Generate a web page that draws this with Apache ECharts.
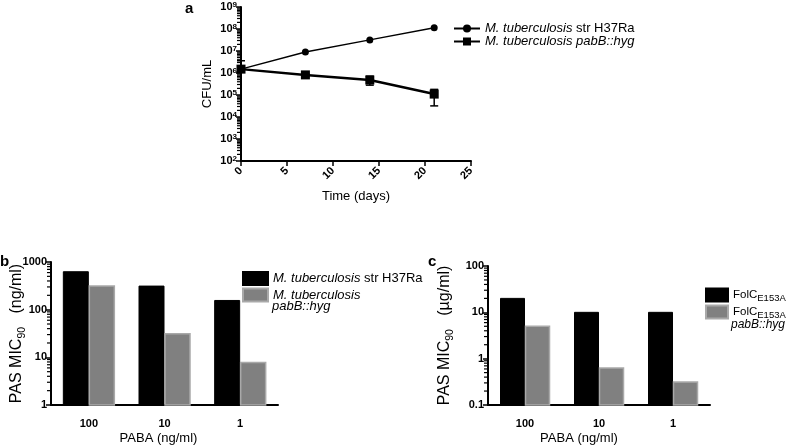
<!DOCTYPE html>
<html><head><meta charset="utf-8">
<script src="https://cdn.jsdelivr.net/npm/echarts@6/dist/echarts.min.js"></script>
<style>html,body{margin:0;padding:0;background:#fff}#c{width:787px;height:446px}</style>
</head><body><div id="c"></div>
<script>
// Panel a: growth curves
const days = [0, 7, 14, 21];
const h37raCFU = [1.5e6, 9e6, 3.2e7, 1.15e8];
const pabBCFU = [1.5e6, 8.2e5, 4.8e5, 1.1e5];
const pabBLow = [1.2e6, 6.8e5, 2.8e5, 3.2e4];
const pabBHigh = [3.6e6, 9.6e5, 7.2e5, 1.8e5];
// Panels b and c: MIC bars
const pabaLevels = ['100', '10', '1'];
const micB_H37Ra = [625, 312.5, 156];
const micB_pabB = [312.5, 31.25, 7.8];
const micC_FolC = [20, 10, 10];
const micC_FolC_pabB = [5, 0.625, 0.3125];
// axis ranges (log exponents)
const expA = [2, 9], expB = [0, 3], expC = [-1, 2];

const F = '"Liberation Sans", Arial, Helvetica, sans-serif';
function majors(r) { const a = []; for (let k = r[0]; k <= r[1]; k++) a.push(Math.pow(10, k)); return a; }
function minors(r) { const a = []; for (let k = r[0]; k < r[1]; k++) for (let m = 2; m <= 9; m++) a.push(+(m * Math.pow(10, k)).toPrecision(6)); return a; }

const axLine = { show: true, onZero: false, lineStyle: { color: '#000', width: 2 } };
const tickMajor = { show: true, inside: false, length: 5, lineStyle: { color: '#000', width: 1.5 } };
const lblBold = { color: '#000', fontFamily: F, fontWeight: 'bold', fontSize: 11 };

function logMajor(gi, r, fmt, name, gap) {
  return {
    type: 'log', logBase: 10, gridIndex: gi, position: 'left', offset: 0,
    min: Math.pow(10, r[0]), max: Math.pow(10, r[1]),
    axisLine: axLine,
    axisTick: Object.assign({ customValues: majors(r) }, tickMajor),
    axisLabel: Object.assign({ customValues: majors(r), formatter: fmt, margin: 4,
      rich: { b: { fontFamily: F, fontWeight: 'bold', fontSize: 11, color: '#000' },
              p: { fontFamily: F, fontWeight: 'bold', fontSize: 8, color: '#000', verticalAlign: 'top', padding: [0, 0, 5, 0] } } }, lblBold),
    splitLine: { show: false }, minorTick: { show: false },
    name: name, nameLocation: 'middle', nameGap: gap, nameRotate: 90, nameMoveOverlap: false,
    nameTextStyle: { fontFamily: F, fontSize: gi === 0 ? 13 : 16, color: '#000',
      rich: { n: { fontFamily: F, fontSize: 16, color: '#000' },
              s: { fontFamily: F, fontSize: 10.5, color: '#000', verticalAlign: 'bottom', lineHeight: 22 } } }
  };
}
function catAxis(gi, shift) {
  return {
    type: 'category', gridIndex: gi, data: pabaLevels, boundaryGap: true,
    axisLine: axLine, axisTick: { show: false },
    axisLabel: Object.assign({ margin: 13, interval: 0 }, lblBold),
    name: 'PABA (ng/ml)', nameLocation: 'middle', nameGap: 27, nameMoveOverlap: false,
    nameTextStyle: { fontFamily: F, fontSize: 13, color: '#000', padding: [0, shift, 0, 0] }
  };
}
// minor log ticks drawn at the axis through the y scale
function minorTickSeries(xi, yi, r, x0) {
  return {
    type: 'custom', xAxisIndex: xi, yAxisIndex: yi, silent: true, clip: false, z: 10,
    data: minors(r).map(v => [x0, v]), encode: { x: 0, y: 1 },
    renderItem: function (params, api) {
      const cs = params.coordSys;
      const y = api.coord([api.value(0), api.value(1)])[1];
      return { type: 'line', shape: { x1: cs.x - 4, y1: y, x2: cs.x, y2: y }, style: { stroke: '#000', lineWidth: 1.2 } };
    }
  };
}
// bars drawn from the axis minimum on log axes
function barSeries(name, xi, yi, vals, k, style, bw, r) {
  return {
    name: name, type: 'custom', xAxisIndex: xi, yAxisIndex: yi, itemStyle: style,
    data: pabaLevels.map((c, i) => [i, vals[i]]), encode: { x: 0, y: 1 },
    renderItem: function (params, api) {
      const top = api.coord([api.value(0), api.value(1)]);
      const base = api.coord([api.value(0), Math.pow(10, r[0])]);
      const gap = 1;
      const x0 = k === 0 ? top[0] - gap / 2 - bw : top[0] + gap / 2;
      return { type: 'rect', shape: { x: x0, y: top[1], width: bw, height: base[1] - top[1] },
        style: { fill: style.color, stroke: style.borderColor, lineWidth: style.borderWidth } };
    }
  };
}

const legendText = {
  lA1: '{i|M. tuberculosis} str H37Ra',
  lA2: '{i|M. tuberculosis pabB::hyg}',
  lB1: '{i|M. tuberculosis} str H37Ra',
  lB2: '{i|M. tuberculosis}',
  lC1: '{n|FolC}{s|E153A}',
  lC2: '{n|FolC}{s|E153A}'
};
function richLeg(lh) {
  return {
    i: { fontFamily: F, fontSize: 13, fontStyle: 'italic', color: '#000', lineHeight: lh },
    n: { fontFamily: F, fontSize: 11.5, color: '#000', lineHeight: lh },
    s: { fontFamily: F, fontSize: 9.5, color: '#000', verticalAlign: 'bottom', lineHeight: lh }
  };
}

const barBlack = { color: '#000', borderColor: '#000', borderWidth: 1 };
const barGray = { color: '#808080', borderColor: '#a9a9a9', borderWidth: 1.5 };

const option = {
  animation: false,
  backgroundColor: '#fff',
  grid: [
    { left: 241, top: 7, width: 230, height: 154 },
    { left: 51, top: 262, width: 227, height: 152 },
    { left: 488, top: 266, width: 222, height: 148 }
  ],
  xAxis: [
    { type: 'value', gridIndex: 0, min: 0, max: 25, interval: 5,
      axisLine: axLine, axisTick: tickMajor, splitLine: { show: false },
      axisLabel: Object.assign({ rotate: 45, margin: 8 }, lblBold),
      name: 'Time (days)', nameLocation: 'middle', nameGap: 29, nameMoveOverlap: false,
      nameTextStyle: { fontFamily: F, fontSize: 13, color: '#000' } },
    catAxis(1, 12),
    catAxis(2, 40)
  ],
  yAxis: [
    logMajor(0, expA, v => '{b|10}{p|' + Math.round(Math.log10(v)) + '}', 'CFU/mL', 27),
    logMajor(1, expB, v => String(+(+v).toPrecision(3)), '{n|PAS MIC}{s|90}{n|   (ng/ml)}', 23),
    logMajor(2, expC, v => String(+(+v).toPrecision(3)), '{n|PAS MIC}{s|90}{n|   (µg/ml)}', 32)
  ],
  legend: [
    { left: 453, top: 22, padding: 0, orient: 'vertical', itemWidth: 26, itemHeight: 10, itemGap: 0, itemTextGap: 3,
      data: ['lA1', 'lA2'], formatter: n => legendText[n],
      textStyle: { fontFamily: F, fontSize: 13, color: '#000', lineHeight: 12, rich: richLeg(12) } },
    { left: 242, top: 271, padding: 0, orient: 'vertical', itemWidth: 25, itemHeight: 13, itemGap: 1.5, itemTextGap: 5,
      icon: 'rect', data: ['lB1', 'lB2'], formatter: n => legendText[n],
      textStyle: { fontFamily: F, fontSize: 13, color: '#000', lineHeight: 13, rich: richLeg(13) } },
    { left: 705, top: 287, padding: 0, orient: 'vertical', itemWidth: 22, itemHeight: 13, itemGap: 1, itemTextGap: 4,
      icon: 'rect', data: ['lC1', 'lC2'], formatter: n => legendText[n],
      textStyle: { fontFamily: F, fontSize: 11.5, color: '#000', lineHeight: 16, rich: richLeg(16) } }
  ],
  graphic: [
    { type: 'text', left: 185, top: 1, style: { text: 'a', font: 'bold 15px ' + F, fill: '#000' } },
    { type: 'text', left: 0, top: 254, style: { text: 'b', font: 'bold 15px ' + F, fill: '#000' } },
    { type: 'text', left: 428, top: 254, style: { text: 'c', font: 'bold 15px ' + F, fill: '#000' } },
    { type: 'text', left: 272, top: 300, style: { text: 'pabB::hyg', font: 'italic 13px ' + F, fill: '#000' } },
    { type: 'text', left: 731, top: 319, style: { text: 'pabB::hyg', font: 'italic 12px ' + F, fill: '#000' } }
  ],
  series: [
    { name: 'lA1', type: 'line', xAxisIndex: 0, yAxisIndex: 0,
      data: days.map((d, i) => [d, h37raCFU[i]]),
      symbol: 'circle', symbolSize: 7, itemStyle: { color: '#000' },
      lineStyle: { color: '#000', width: 1.5 }, z: 3 },
    { name: 'lA2', type: 'line', xAxisIndex: 0, yAxisIndex: 0,
      data: days.map((d, i) => [d, pabBCFU[i]]),
      symbol: 'rect', symbolSize: 9, itemStyle: { color: '#000' },
      lineStyle: { color: '#000', width: 2.5 }, z: 4 },
    { name: 'errA2', type: 'custom', xAxisIndex: 0, yAxisIndex: 0,
      data: days.map((d, i) => [d, pabBLow[i], pabBHigh[i]]),
      encode: { x: 0, y: [1, 2] }, z: 5,
      renderItem: function (params, api) {
        const x = api.value(0), lo = api.value(1), hi = api.value(2);
        const a = api.coord([x, hi]), b = api.coord([x, lo]); const w = 4;
        const st = { stroke: '#000', lineWidth: 1.5 };
        return { type: 'group', children: [
          { type: 'line', shape: { x1: a[0], y1: a[1], x2: b[0], y2: b[1] }, style: st },
          { type: 'line', shape: { x1: a[0] - w, y1: a[1], x2: a[0] + w, y2: a[1] }, style: st },
          { type: 'line', shape: { x1: b[0] - w, y1: b[1], x2: b[0] + w, y2: b[1] }, style: st }
        ] };
      } },
    barSeries('lB1', 1, 1, micB_H37Ra, 0, barBlack, 25, expB),
    barSeries('lB2', 1, 1, micB_pabB, 1, barGray, 25, expB),
    barSeries('lC1', 2, 2, micC_FolC, 0, barBlack, 24, expC),
    barSeries('lC2', 2, 2, micC_FolC_pabB, 1, barGray, 24, expC),
    minorTickSeries(0, 0, expA, 0),
    minorTickSeries(1, 1, expB, 0),
    minorTickSeries(2, 2, expC, 0)
  ]
};
const chart = echarts.init(document.getElementById('c'), null, { renderer: 'canvas' });
chart.setOption(option);
</script>
</body></html>
